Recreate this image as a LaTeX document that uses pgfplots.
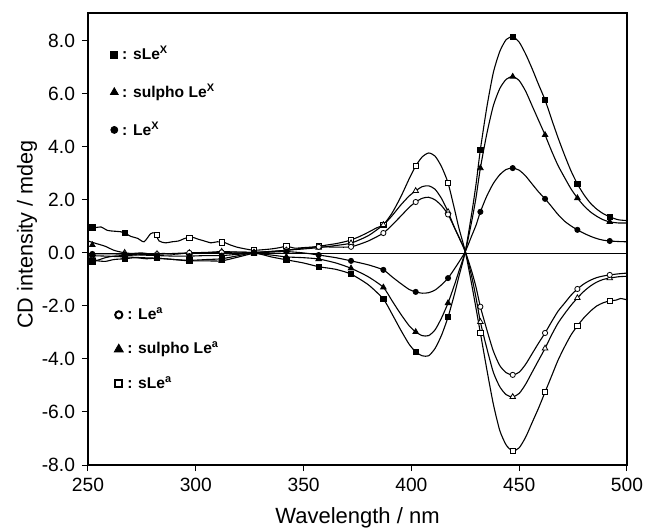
\documentclass[border=0pt]{standalone}
\usepackage{fontspec}
\setmainfont{Liberation Sans}
\usepackage{pgfplots}
\pgfplotsset{compat=1.18}

% line styles
\pgfplotsset{
  cdline/.style={black, line width=0.55pt, smooth, tension=0.4, no marks, forget plot},
  cdmark/.style={black, only marks, line width=0.4pt, forget plot},
}

\begin{document}
\begin{tikzpicture}
\begin{axis}[
  scale only axis, width=269.5pt, height=226pt,
  xmin=250, xmax=500, ymin=-8, ymax=9.05,
  xtick={250,300,...,500}, ytick={-8,-6,...,8},
  tick pos=left, tick align=outside, major tick length=3pt,
  axis line style={line width=0.6pt},
  tick style={black, line width=0.5pt},
  font=\fontsize{9.6}{11}\selectfont,
  /pgf/number format/assume math mode=true,
  yticklabel style={/pgf/number format/.cd, fixed, fixed zerofill, precision=1},
  xlabel={Wavelength / nm}, ylabel={CD intensity / mdeg},
  every axis x label/.style={at={(axis description cs:0.5,-0.117)}, anchor=center, font=\fontsize{11}{13}\selectfont},
  every axis y label/.style={at={(axis description cs:-0.113,0.51)}, rotate=90, anchor=center, font=\fontsize{10.8}{13}\selectfont},
  legend style={at={(axis description cs:0.041,0.936)}, anchor=north west, draw=none, fill=none,
    font=\bfseries\fontsize{7.8}{9}\selectfont, row sep=6.8pt, inner sep=0pt},
  legend cell align=left,
  legend image code/.code={\draw[#1] plot coordinates {(0pt,0pt)};},
]
\addlegendimage{black, only marks, mark=square*, mark size=1.75pt}
\addlegendimage{black, only marks, mark=triangle*, mark size=2.2pt}
\addlegendimage{black, only marks, mark=*, mark size=1.75pt}
\legend{: sLe\textsuperscript{X}, : sulpho Le\textsuperscript{X}, : Le\textsuperscript{X}}

% zero line
\addplot[black, line width=0.4pt, forget plot] coordinates {(250,0)(500,0)};

% sLe^a
\addplot[cdline] coordinates {
(250,1.00)(253,0.95)(256,0.98)(259,0.85)(262,0.82)(265,0.80)(267,0.75)(270,0.62)(273,0.55)(276,0.42)(279,0.72)(281,0.75)(283,0.45)(286,0.38)(289,0.42)(292,0.45)(295,0.55)(298,0.60)(301,0.52)(304,0.45)(307,0.38)(310,0.42)(313,0.40)(316,0.30)(319,0.22)(323,0.15)(327,0.10)(331,0.12)(335,0.15)(339,0.20)(342,0.25)(346,0.18)(350,0.20)(354,0.22)(357,0.25)(361,0.30)(365,0.35)(369,0.42)(372,0.49)(376,0.62)(380,0.78)(384,0.95)(387,1.06)(391,1.5)(395,2.1)(399,2.8)(402,3.28)(405,3.62)(408,3.77)(411,3.65)(414,3.25)(417,2.64)(420,1.65)(422,0.95)(425,0.05)(428,-1.2)(430,-2.1)(432,-3.02)(435,-4.4)(438,-5.7)(441,-6.7)(444,-7.25)(447,-7.47)(450,-7.35)(453,-6.95)(456,-6.4)(459,-5.85)(462,-5.25)(465,-4.65)(468,-4.05)(471,-3.55)(474,-3.1)(477,-2.75)(480,-2.45)(483,-2.2)(486,-2.0)(489,-1.88)(492,-1.81)(495,-1.78)(497,-1.72)(500,-1.77)
};
% sulpho Le^a
\addplot[cdline] coordinates {
(250,0.45)(254,0.35)(258,0.25)(262,0.10)(266,0.02)(270,-0.02)(275,0.0)(280,-0.05)(285,-0.02)(290,-0.05)(297,0.0)(305,0.02)(312,0.05)(320,0.03)(327,0.02)(335,0.05)(342,0.10)(350,0.15)(357,0.20)(365,0.28)(372,0.37)(380,0.65)(387,1.06)(391,1.4)(395,1.8)(399,2.15)(402,2.34)(405,2.5)(408,2.53)(411,2.4)(414,2.05)(417,1.55)(420,0.95)(422,0.6)(425,0.05)(428,-0.9)(430,-1.7)(432,-2.6)(435,-3.6)(438,-4.5)(441,-5.05)(444,-5.35)(447,-5.43)(450,-5.3)(453,-4.95)(456,-4.5)(459,-4.05)(462,-3.6)(465,-3.1)(468,-2.65)(471,-2.3)(474,-1.98)(477,-1.7)(480,-1.45)(483,-1.25)(486,-1.1)(489,-1.0)(492,-0.95)(496,-0.9)(500,-0.88)
};
% Le^a
\addplot[cdline] coordinates {
(250,-0.20)(254,-0.28)(258,-0.18)(262,-0.12)(267,-0.10)(272,-0.08)(277,-0.05)(282,-0.05)(290,-0.02)(297,0.0)(305,0.0)(312,0.02)(320,0.03)(327,0.02)(335,0.06)(342,0.10)(350,0.18)(357,0.23)(365,0.22)(372,0.23)(380,0.45)(387,0.75)(391,1.05)(395,1.38)(399,1.72)(402,1.92)(405,2.06)(408,2.1)(411,2.0)(414,1.78)(417,1.45)(420,0.95)(422,0.6)(425,0.05)(428,-0.7)(430,-1.3)(432,-2.03)(435,-2.9)(438,-3.7)(441,-4.25)(444,-4.52)(447,-4.6)(450,-4.5)(453,-4.2)(456,-3.8)(459,-3.4)(462,-3.02)(465,-2.6)(468,-2.2)(471,-1.9)(474,-1.6)(477,-1.36)(480,-1.17)(483,-1.03)(486,-0.93)(489,-0.87)(492,-0.83)(496,-0.79)(500,-0.76)
};
% sLe^X
\addplot[cdline] coordinates {
(250,-0.35)(254,-0.30)(258,-0.32)(262,-0.25)(267,-0.22)(272,-0.18)(277,-0.22)(282,-0.20)(290,-0.25)(297,-0.28)(305,-0.25)(312,-0.22)(320,-0.1)(327,0.0)(335,-0.15)(342,-0.26)(350,-0.38)(357,-0.52)(365,-0.62)(372,-0.80)(380,-1.2)(387,-1.74)(391,-2.3)(395,-2.9)(399,-3.45)(402,-3.73)(405,-3.88)(408,-3.88)(411,-3.6)(414,-3.1)(417,-2.42)(420,-1.55)(422,-0.9)(425,0.05)(428,1.5)(430,2.6)(432,3.9)(435,5.5)(438,6.8)(441,7.6)(444,8.05)(447,8.15)(450,7.95)(453,7.5)(456,6.95)(459,6.35)(462,5.77)(465,5.05)(468,4.35)(471,3.7)(474,3.1)(477,2.6)(480,2.2)(483,1.88)(486,1.65)(489,1.48)(492,1.36)(496,1.25)(500,1.22)
};
% sulpho Le^X
\addplot[cdline] coordinates {
(250,-0.10)(258,-0.12)(267,-0.15)(275,-0.18)(282,-0.20)(290,-0.25)(297,-0.30)(305,-0.30)(312,-0.30)(320,-0.15)(327,-0.02)(335,-0.08)(342,-0.15)(350,-0.18)(357,-0.23)(365,-0.38)(372,-0.58)(380,-0.9)(387,-1.30)(391,-1.8)(395,-2.3)(399,-2.75)(402,-2.98)(405,-3.12)(408,-3.12)(411,-2.9)(414,-2.45)(417,-1.89)(420,-1.2)(422,-0.7)(425,0.05)(428,1.2)(430,2.1)(432,3.2)(435,4.5)(438,5.55)(441,6.2)(444,6.55)(447,6.65)(450,6.5)(453,6.1)(456,5.55)(459,5.0)(462,4.45)(465,3.85)(468,3.3)(471,2.85)(474,2.42)(477,2.07)(480,1.78)(483,1.55)(486,1.38)(489,1.25)(492,1.17)(496,1.13)(500,1.13)
};
% Le^X
\addplot[cdline] coordinates {
(250,-0.05)(258,-0.03)(267,-0.05)(275,-0.08)(282,-0.10)(290,-0.12)(297,-0.12)(305,-0.10)(312,-0.10)(320,-0.05)(327,0.0)(335,0.03)(342,0.05)(350,0.0)(357,-0.08)(365,-0.18)(372,-0.30)(380,-0.45)(387,-0.64)(391,-0.9)(395,-1.15)(399,-1.38)(402,-1.47)(405,-1.52)(408,-1.5)(411,-1.4)(414,-1.2)(417,-0.95)(420,-0.6)(422,-0.35)(425,0.05)(428,0.65)(430,1.05)(432,1.55)(435,2.15)(438,2.62)(441,2.95)(444,3.15)(447,3.2)(450,3.12)(453,2.9)(456,2.6)(459,2.3)(462,2.04)(465,1.75)(468,1.45)(471,1.2)(474,1.02)(477,0.87)(480,0.74)(483,0.63)(486,0.54)(489,0.48)(492,0.45)(496,0.43)(500,0.42)
};

% markers every 15 nm
\addplot[cdmark, mark=square*, mark size=1.3pt, mark options={fill=white}] coordinates {
(282,0.68)(297,0.58)(312,0.40)(327,0.10)(342,0.25)(357,0.25)(372,0.49)(387,1.06)(402,3.28)(417,2.64)(432,-3.02)(447,-7.47)(462,-5.25)(477,-2.75)(492,-1.81)
};
\addplot[cdmark, mark=square*, mark size=1.3pt] coordinates {(252,0.96)(267,0.75)};
\addplot[cdmark, mark=triangle*, mark size=1.6pt, mark options={fill=white}] coordinates {
(267,0.01)(282,-0.04)(297,0.0)(312,0.05)(327,0.02)(342,0.10)(357,0.20)(372,0.37)(387,1.06)(402,2.34)(417,1.55)(432,-2.6)(447,-5.43)(462,-3.6)(477,-1.7)(492,-0.95)
};
\addplot[cdmark, mark=triangle*, mark size=1.6pt] coordinates {(252,0.30)};
\addplot[cdmark, mark=*, mark size=1.3pt, mark options={fill=white}] coordinates {
(252,-0.25)(267,-0.10)(282,-0.05)(297,0.0)(312,0.02)(327,0.02)(342,0.10)(357,0.23)(372,0.23)(387,0.75)(402,1.92)(417,1.45)(432,-2.03)(447,-4.6)(462,-3.02)(477,-1.36)(492,-0.83)
};
\addplot[cdmark, mark=square*, mark size=1.3pt] coordinates {
(252,-0.32)(267,-0.22)(282,-0.20)(297,-0.28)(312,-0.22)(327,0.0)(342,-0.26)(357,-0.52)(372,-0.80)(387,-1.74)(402,-3.73)(417,-2.42)(432,3.9)(447,8.15)(462,5.77)(477,2.6)(492,1.36)
};
\addplot[cdmark, mark=triangle*, mark size=1.6pt] coordinates {
(252,-0.10)(267,-0.15)(282,-0.20)(297,-0.30)(312,-0.30)(327,-0.02)(342,-0.15)(357,-0.23)(372,-0.58)(387,-1.30)(402,-2.98)(417,-1.89)(432,3.2)(447,6.65)(462,4.45)(477,2.07)(492,1.17)
};
\addplot[cdmark, mark=*, mark size=1.3pt] coordinates {
(252,-0.04)(267,-0.05)(282,-0.10)(297,-0.12)(312,-0.10)(327,0.0)(342,0.05)(357,-0.08)(372,-0.30)(387,-0.64)(402,-1.47)(417,-0.95)(432,1.55)(447,3.2)(462,2.04)(477,0.87)(492,0.45)
};
\end{axis}

% second (hidden) axis carrying the lower legend
\begin{axis}[
  scale only axis, width=269.5pt, height=226pt,
  xmin=250, xmax=500, ymin=-8, ymax=9.05,
  hide axis,
  legend style={at={(axis description cs:0.048,0.358)}, anchor=north west, draw=none, fill=none,
    font=\bfseries\fontsize{7.8}{9}\selectfont, row sep=6pt, inner sep=0pt},
  legend cell align=left,
  legend image code/.code={\draw[#1] plot coordinates {(0pt,0pt)};},
]
\addlegendimage{black, only marks, mark=o, mark size=1.8pt, line width=1pt}
\addlegendimage{black, only marks, mark=triangle*, mark size=2.6pt}
\addlegendimage{black, only marks, mark=square, mark size=1.8pt, line width=1pt}
\legend{: Le\textsuperscript{a}, : sulpho Le\textsuperscript{a}, : sLe\textsuperscript{a}}
\end{axis}

\pgfresetboundingbox
\path (-44pt,-31pt) rectangle (278.5pt,232.5pt);
\end{tikzpicture}
\end{document}
